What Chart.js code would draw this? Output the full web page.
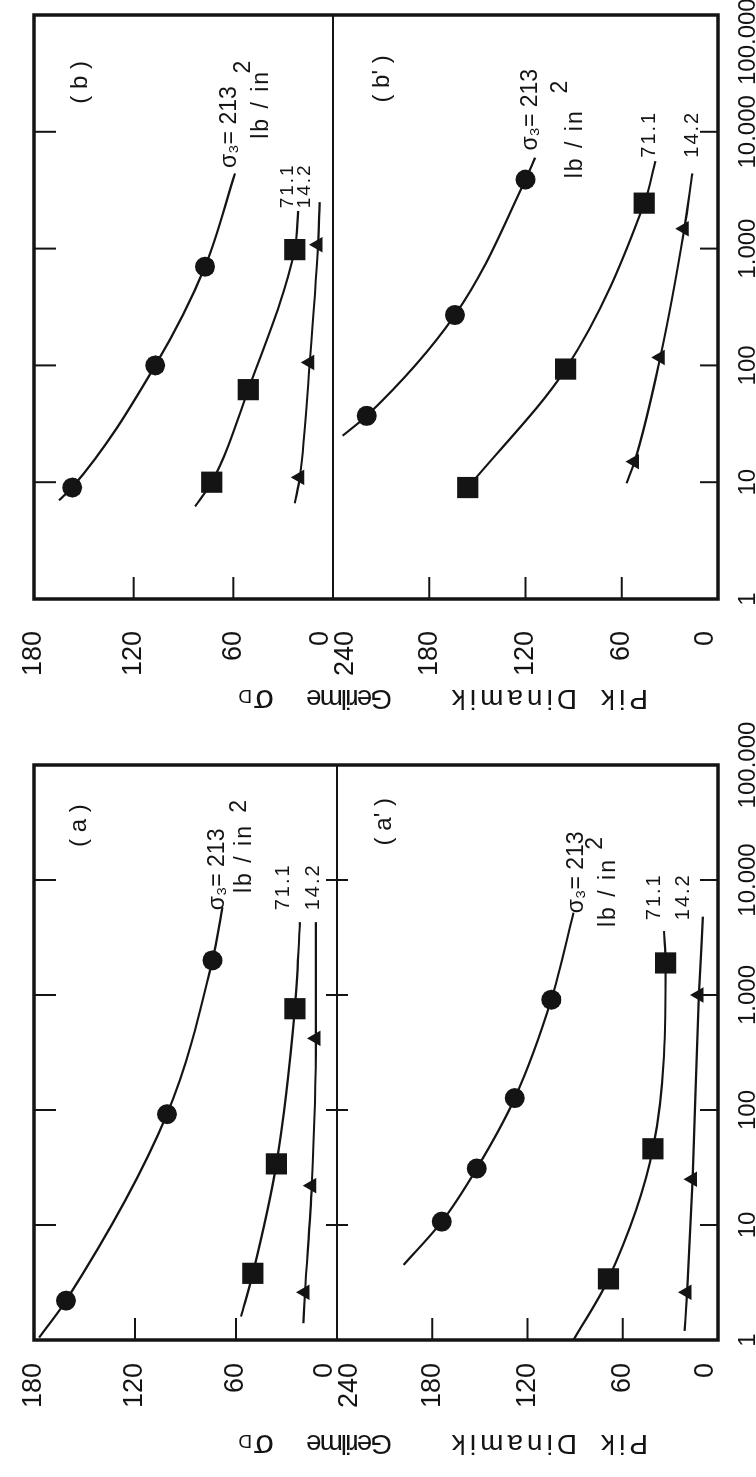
<!DOCTYPE html>
<html>
<head>
<meta charset="utf-8">
<script src="https://cdn.jsdelivr.net/npm/chart.js@4.4.1/dist/chart.umd.min.js"></script>
<style>
  html, body { margin: 0; background: #fff; }
  .fig { position: absolute; left: 0; width: 756px; overflow: hidden; }
  .turn { position: absolute; left: 0; top: 0; transform-origin: 0 0; }
</style>
</head>
<body>
<div class="fig" style="top:0;height:736px">
  <div class="turn" style="width:736px;height:756px;transform:translate(0,736px) rotate(-90deg)">
    <canvas id="figB" width="736" height="756"></canvas>
  </div>
</div>
<div class="fig" style="top:717px;height:760px">
  <div class="turn" style="width:760px;height:756px;transform:translate(0,760px) rotate(-90deg)">
    <canvas id="figA" width="760" height="756"></canvas>
  </div>
</div>
<script>
const cycleTicks = [1, 10, 100, 1000, 10000, 100000];
const cycleTickLabels = ["1", "10", "100", "1.000", "10.000", "100.000"];
const upperStressTicks = [0, 60, 120, 180];
const lowerStressTicks = [0, 60, 120, 180, 240];

// [cycles, peak dynamic stress] at the markers, then the two ends of each drawn curve
// panel (b)
const b213 = [[9, 157], [100, 107], [700, 77]];
const b213Ends = [[7, 165], [4400, 59]];
const b71 = [[10, 73], [62, 51], [980, 23]];
const b71Ends = [[6.2, 83], [2100, 21]];
const b14 = [[11, 20], [106, 14], [1080, 9]];
const b14Ends = [[6.6, 23], [2500, 8]];
// panel (b')
const bp213 = [[37, 219], [270, 164], [3900, 120]];
const bp213Ends = [[25, 234], [6000, 114]];
const bp71 = [[9, 156], [93, 95], [2450, 46]];
const bp71Ends = [null, [5600, 39]];
const bp14 = [[15, 52], [117, 36], [1480, 21]];
const bp14Ends = [[9.8, 57], [4400, 16]];
// panel (a)
const a213 = [[2.2, 161], [92, 101], [2000, 74]];
const a213Ends = [[1.05, 177], [5800, 68]];
const a71 = [[3.8, 50], [34, 36], [760, 25]];
const a71Ends = [[1.6, 57], [4300, 22]];
const a14 = [[2.6, 19], [22, 15], [420, 12.5]];
const a14Ends = [[1.4, 20], [4300, 12.5]];
// panel (a')
const ap213 = [[10.7, 174], [31, 152], [127, 128], [910, 105]];
const ap213Ends = [[4.5, 198], [5200, 91]];
const ap71 = [[3.4, 69], [46, 41], [1900, 33]];
const ap71Ends = [[1, 91], [3600, 34]];
const ap14 = [[2.6, 19.5], [25, 16], [1000, 12]];
const ap14Ends = [[1.2, 21], [4800, 9.5]];

const INK = "#141414";
const FONT = "'Liberation Sans', Arial, sans-serif";
const MARKERS = { circle: ["circle", 10], square: ["rect", 15], triangle: ["triangle", 9] };
// word, offset along the title, font size, letter spacing
const titleWords = [["Pik", 0, 28, 4], ["Dinamik", 71, 28, 4], ["Gerilme", 256, 28, -2], ["σ", 374, 33, 0], ["D", 396, 19, 0]];

Chart.defaults.font.family = FONT;

function seriesDatasets(pts, ends, shape, axis) {
  const [pointStyle, radius] = MARKERS[shape];
  const curve = [ends[0], ...pts, ends[1]].filter(Boolean);
  return [
    {
      data: curve.map(([x, y]) => ({ x, y })), yAxisID: axis, showLine: true,
      cubicInterpolationMode: "monotone", borderColor: INK, borderWidth: 2.2, pointRadius: 0, pointHoverRadius: 0,
    },
    {
      data: pts.map(([x, y]) => ({ x, y })), yAxisID: axis, pointStyle,
      pointRadius: radius, pointHoverRadius: radius, backgroundColor: INK, borderWidth: 0,
    },
  ];
}

const figureFrame = {
  id: "figureFrame",
  afterDraw(chart, args, opts) {
    const { ctx, chartArea: a, scales } = chart;
    const x = scales.x;
    const split = scales[opts.upper].bottom;
    const line = (x1, y1, x2, y2) => { ctx.beginPath(); ctx.moveTo(x1, y1); ctx.lineTo(x2, y2); ctx.stroke(); };
    ctx.save();
    ctx.strokeStyle = INK;
    ctx.lineWidth = 2;
    for (const v of cycleTicks.slice(1, -1)) {
      const px = x.getPixelForValue(v);
      line(px, a.top, px, a.top + 22);
      line(px, a.bottom, px, a.bottom - 18);
      if (opts.midTicks) line(px, split - 11, px, split + 11);
    }
    for (const id of [opts.upper, opts.lower]) {
      const sc = scales[id];
      for (const t of sc.ticks) {
        if (t.value === sc.min || t.value === sc.max) continue;
        const py = sc.getPixelForValue(t.value);
        line(a.left, py, a.left + 22, py);
      }
    }
    ctx.lineWidth = 3.5;
    ctx.strokeRect(a.left, a.top, a.right - a.left, a.bottom - a.top);
    ctx.lineWidth = 2;
    line(a.left, split, a.right, split);

    ctx.fillStyle = INK;
    ctx.textAlign = "left";
    ctx.textBaseline = "middle";
    for (const [text, axis, n, s, size, spacing] of opts.notes) {
      ctx.font = `${size}px ${FONT}`;
      ctx.letterSpacing = `${spacing || 0}px`;
      ctx.fillText(text, x.getPixelForValue(n), scales[axis].getPixelForValue(s));
    }

    ctx.translate(a.left - opts.titleGap, a.bottom - 70);
    ctx.rotate(-Math.PI / 2);
    ctx.textBaseline = "alphabetic";
    for (const [word, at, size, spacing] of titleWords) {
      ctx.font = `${size}px ${FONT}`;
      ctx.letterSpacing = `${spacing}px`;
      ctx.fillText(word, at, 0);
    }
    ctx.restore();
  },
};

function stressAxis(ticks, max, weight, stackWeight, width, gap, boundary) {
  return {
    type: "linear", position: "left", stack: "stress", stackWeight, weight,
    min: 0, max,
    grid: { display: false }, border: { display: false },
    afterBuildTicks: (s) => { s.ticks = ticks.map((value) => ({ value })); },
    afterFit: (s) => { s.width = width; s.paddingTop = 0; s.paddingBottom = 0; },
    ticks: {
      autoSkip: false, padding: gap, color: INK,
      font: { size: 27, lineHeight: 0.9 },
      callback: (v) => boundary(v),
    },
  };
}

function drawFigure(canvasId, opt) {
  const datasets = opt.series.flatMap(([pts, ends, shape, axis]) => seriesDatasets(pts, ends, shape, axis));
  const last = cycleTickLabels.length - 1;
  return new Chart(document.getElementById(canvasId), {
    type: "scatter",
    data: { datasets },
    options: {
      responsive: false, animation: false, devicePixelRatio: 1,
      layout: { padding: { top: 34, right: opt.padRight, bottom: 0, left: 0 } },
      plugins: {
        legend: { display: false }, tooltip: { enabled: false },
        figureFrame: { upper: opt.upper, lower: opt.lower, midTicks: opt.midTicks, notes: opt.notes, titleGap: opt.titleGap },
      },
      scales: {
        x: {
          type: "logarithmic", min: 1, max: 100000,
          grid: { display: false }, border: { display: false },
          afterBuildTicks: (s) => { s.ticks = cycleTicks.map((value) => ({ value })); },
          afterFit: (s) => { s.height = 38; s.paddingLeft = 0; s.paddingRight = 0; },
          ticks: {
            autoSkip: false, maxRotation: 0, minRotation: 0, padding: 8, color: INK,
            font: { size: 24 },
            // the top figure's last label sits shifted off its tick, as in the print
            callback: (v, i) => cycleTickLabels[i] + (i === last ? " ".repeat(opt.lastPad) : ""),
          },
        },
        [opt.upper]: stressAxis(upperStressTicks, 180, 2, opt.weights[0], opt.areaLeft, opt.tickGap,
          (v) => (v === 0 ? ["0", ""] : String(v))),
        [opt.lower]: stressAxis(lowerStressTicks, 240, 1, opt.weights[1], opt.areaLeft, opt.tickGap,
          (v) => (v === 240 ? ["", "240"] : v === 0 ? ["0", ""] : String(v))),
      },
    },
    plugins: [figureFrame],
  });
}

drawFigure("figB", {
  upper: "yb", lower: "ybp", weights: [299, 385], areaLeft: 137, padRight: 15, tickGap: 24,
  titleGap: 91, lastPad: 8, midTicks: false,
  series: [
    [b213, b213Ends, "circle", "yb"], [b71, b71Ends, "square", "yb"], [b14, b14Ends, "triangle", "yb"],
    [bp213, bp213Ends, "circle", "ybp"], [bp71, bp71Ends, "square", "ybp"], [bp14, bp14Ends, "triangle", "ybp"],
  ],
  notes: [
    ["( b )", "yb", 17400, 152, 24], ["σ₃= 213", "yb", 4900, 62, 23], ["lb / in", "yb", 8700, 43, 23, 2],
    ["2", "yb", 31600, 54, 23], ["71.1", "yb", 2210, 27, 19, 2], ["14.2", "yb", 2210, 17, 19, 2],
    ["( b' )", "ybp", 17800, 209, 24], ["σ₃= 213", "ybp", 6900, 117, 23], ["lb / in", "ybp", 4000, 89, 23, 2],
    ["2", "ybp", 21300, 98, 23], ["71.1", "ybp", 6000, 43, 20, 2], ["14.2", "ybp", 6000, 16, 20, 2],
  ],
});

drawFigure("figA", {
  upper: "ya", lower: "yap", weights: [303, 381], areaLeft: 137, padRight: 48, tickGap: 15,
  titleGap: 95, lastPad: 0, midTicks: true,
  series: [
    [a213, a213Ends, "circle", "ya"], [a71, a71Ends, "square", "ya"], [a14, a14Ends, "triangle", "ya"],
    [ap213, ap213Ends, "circle", "yap"], [ap71, ap71Ends, "square", "yap"], [ap14, ap14Ends, "triangle", "yap"],
  ],
  notes: [
    ["( a )", "ya", 19400, 153, 24], ["σ₃= 213", "ya", 5450, 71, 23], ["lb / in", "ya", 7700, 55, 23, 2],
    ["2", "ya", 38500, 58, 23], ["71.1", "ya", 5450, 32, 20, 2], ["14.2", "ya", 5450, 14, 20, 2],
    ["( a' )", "yap", 20000, 210, 24], ["σ₃= 213", "yap", 5150, 89, 23], ["lb / in", "yap", 3900, 69, 23, 2],
    ["2", "yap", 18300, 77, 23], ["71.1", "yap", 4470, 40, 20, 2], ["14.2", "yap", 4470, 22, 20, 2],
  ],
});
</script>
</body>
</html>
